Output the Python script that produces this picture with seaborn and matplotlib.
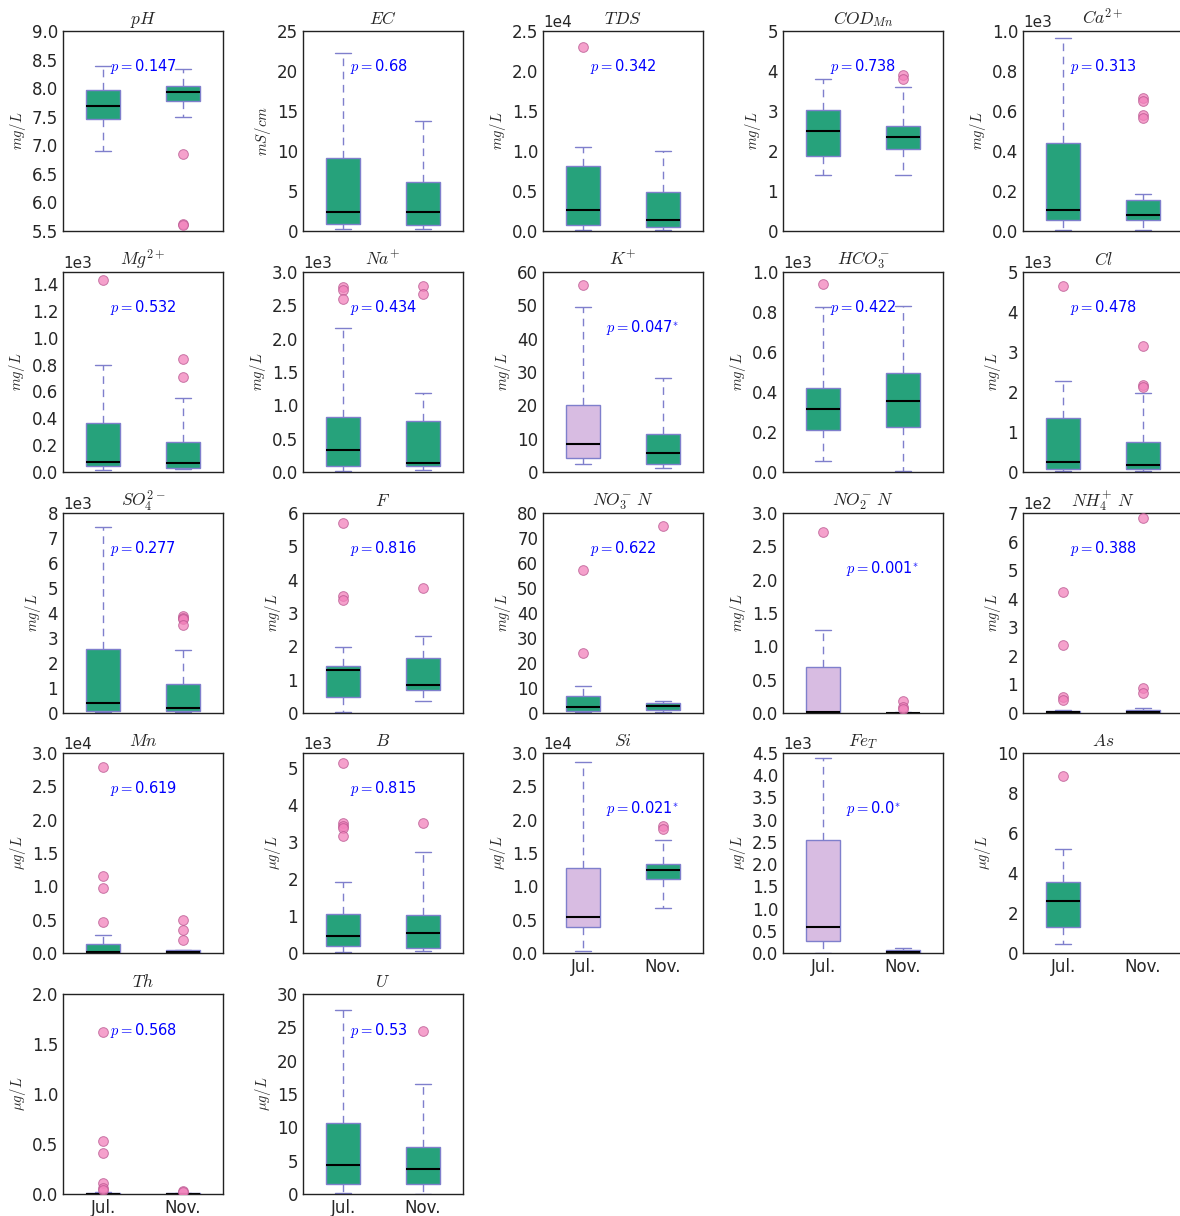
import numpy as np
import pandas as pd
import matplotlib
matplotlib.use("Agg")
import matplotlib.pyplot as plt
from matplotlib.ticker import MultipleLocator, ScalarFormatter
import seaborn as sns

# ---------------------------------------------------------------------------
# Data: five-number summaries (whisker low, Q1, median, Q3, whisker high)
# and outliers for each parameter, July vs November sampling campaigns.
# ---------------------------------------------------------------------------
MONTHS = ["Jul.", "Nov."]

PARAMS = [r"$pH$", r"$EC$", r"$TDS$", r"$COD_{Mn}$", r"$Ca^{2+}$",
          r"$Mg^{2+}$", r"$Na^{+}$", r"$K^{+}$", r"$HCO_3^{-}$", r"$Cl$",
          r"$SO_4^{2-}$", r"$F$", r"$NO_3^{-}\ N$", r"$NO_2^{-}\ N$", r"$NH_4^{+}\ N$",
          r"$Mn$", r"$B$", r"$Si$", r"$Fe_T$", r"$As$",
          r"$Th$", r"$U$"]

UNITS = [r"$mg/L$", r"$mS/cm$", r"$mg/L$", r"$mg/L$", r"$mg/L$",
         r"$mg/L$", r"$mg/L$", r"$mg/L$", r"$mg/L$", r"$mg/L$",
         r"$mg/L$", r"$mg/L$", r"$mg/L$", r"$mg/L$", r"$mg/L$",
         r"$\mu g/L$", r"$\mu g/L$", r"$\mu g/L$", r"$\mu g/L$", r"$\mu g/L$",
         r"$\mu g/L$", r"$\mu g/L$"]

P_VALUES = ["0.147", "0.68", "0.342", "0.738", "0.313",
            "0.532", "0.434", "0.047", "0.422", "0.478",
            "0.277", "0.816", "0.622", "0.001", "0.388",
            "0.619", "0.815", "0.021", "0.0", None,
            "0.568", "0.53"]

JUL_STATS = [
    [6.90, 7.46, 7.69, 7.96, 8.39],
    [0.2, 0.84, 2.39, 9.09, 22.2],
    [170, 710, 2640, 8170, 10470],
    [1.39, 1.88, 2.49, 3.03, 3.79],
    [7, 55, 106, 440, 966],
    [15, 42, 75, 368, 797],
    [20, 95, 330, 820, 2160],
    [2.5, 4.2, 8.3, 20.0, 49.5],
    [55, 210, 317, 420, 827],
    [25, 75, 250, 1350, 2280],
    [50, 90, 410, 2550, 7440],
    [0.03, 0.49, 1.29, 1.42, 1.99],
    [0.5, 0.9, 2.5, 6.8, 10.8],
    [0.0, 0.01, 0.02, 0.695, 1.24],
    [1, 2, 3, 6, 9],
    [10, 100, 200, 1300, 2700],
    [20, 200, 470, 1060, 1910],
    [350, 3850, 5400, 12700, 28600],
    [0, 260, 585, 2550, 4390],
    [0.43, 1.28, 2.62, 3.55, 5.22],
    [0.0, 0.002, 0.005, 0.012, 0.025],
    [0.1, 1.5, 4.3, 10.7, 27.6],
]

NOV_STATS = [
    [7.50, 7.77, 7.94, 8.03, 8.34],
    [0.2, 0.75, 2.39, 6.16, 13.8],
    [170, 500, 1380, 4820, 10050],
    [1.39, 2.06, 2.35, 2.62, 3.60],
    [7, 54, 82, 156, 183],
    [22, 32, 67, 221, 549],
    [35, 85, 140, 760, 1185],
    [1.2, 2.5, 5.7, 11.5, 28.2],
    [7, 227, 355, 495, 830],
    [25, 83, 167, 740, 1980],
    [50, 90, 190, 1150, 2510],
    [0.36, 0.68, 0.84, 1.64, 2.31],
    [0.3, 1.2, 2.8, 4.0, 4.7],
    [0.0, 0.002, 0.004, 0.007, 0.012],
    [1, 2, 5, 12, 16],
    [10, 50, 150, 400, 500],
    [65, 130, 530, 1020, 2730],
    [6750, 11100, 12500, 13400, 16900],
    [0, 10, 20, 60, 110],
    [],
    [0.0, 0.002, 0.004, 0.007, 0.012],
    [0.05, 1.5, 3.8, 7.0, 16.5],
]

JUL_OUTLIERS = [
    [], [], [23000], [], [],
    [1428], [2780, 2730, 2600], [56.2], [942], [4660],
    [], [5.69, 3.50, 3.40], [57.3, 24.1], [2.72], [422, 239, 55, 46],
    [27850, 11550, 9750, 4700], [5130, 3500, 3420, 3380, 3150], [], [], [8.83],
    [1.62, 0.53, 0.41, 0.11, 0.065, 0.045], [],
]

NOV_OUTLIERS = [
    [6.84, 5.62, 5.61], [], [], [3.89, 3.81], [664, 652, 578, 563],
    [844, 710], [2790, 2670], [], [], [3160, 2170, 2130],
    [3880, 3820, 3760, 3530], [3.74], [74.9], [0.18, 0.085, 0.055], [681, 88, 69],
    [4900, 3400, 1900], [3520], [19000, 18600], [], [],
    [0.028, 0.022], [24.5],
]

Y_LIMITS = [(5.5, 9.0), (0, 25), (0, 25000), (0, 5), (0, 1000),
            (0, 1490), (0, 3000), (0, 60), (0, 1000), (0, 5000),
            (0, 8000), (0, 6), (0, 80), (0, 3.0), (0, 700),
            (0, 30000), (0, 5400), (0, 30000), (0, 4500), (0, 10),
            (0, 2.0), (0, 30)]

Y_STEPS = [0.5, 5, 5000, 1, 200,
           200, 500, 10, 200, 1000,
           1000, 1, 10, 0.5, 100,
           5000, 1000, 5000, 500, 2,
           0.5, 5]

# ---------------------------------------------------------------------------
# Style
# ---------------------------------------------------------------------------
sns.set_style("white")
plt.rcParams["font.family"] = ["DejaVu Sans"]
plt.rcParams["mathtext.fontset"] = "cm"
plt.rcParams["axes.edgecolor"] = "#222222"
plt.rcParams["axes.linewidth"] = 1.0

GREEN = "#26a27b"
LILAC = "#d8bce2"
EDGE = "#7f7fcc"
PINK = "#f282bb"
PINK_EDGE = "#b8558f"

W, H = 1180, 1216
fig = plt.figure(figsize=(W / 100, H / 100), dpi=100)

AX_LEFT = [63, 303, 543, 783, 1023]
AX_TOP = [31, 272, 513, 753, 994]
AX_W, AX_H = 160, 200

n_params = len(PARAMS)
for i in range(n_params):
    row, col = divmod(i, 5)
    ax = fig.add_axes([AX_LEFT[col] / W, 1 - (AX_TOP[row] + AX_H) / H,
                       AX_W / W, AX_H / H])

    pval = P_VALUES[i]
    significant = pval is not None and float(pval) < 0.05
    palette = {"Jul.": LILAC if significant else GREEN, "Nov.": GREEN}

    rows = [("Jul.", v) for v in JUL_STATS[i]] + [("Nov.", v) for v in NOV_STATS[i]]
    box_df = pd.DataFrame(rows, columns=["month", "value"])

    sns.boxplot(data=box_df, x="month", y="value", hue="month",
                order=MONTHS, hue_order=MONTHS, palette=palette,
                legend=False, dodge=False, saturation=1, width=0.42,
                whis=(0, 100), showfliers=False, linecolor=EDGE, linewidth=1.0,
                boxprops=dict(edgecolor=EDGE, linewidth=1.0),
                whiskerprops=dict(color=EDGE, linestyle=(0, (5.5, 4)), linewidth=1.0),
                capprops=dict(color=EDGE, linewidth=1.0),
                medianprops=dict(color="black", linewidth=1.5),
                ax=ax)

    out_rows = [("Jul.", v) for v in JUL_OUTLIERS[i]] + [("Nov.", v) for v in NOV_OUTLIERS[i]]
    if out_rows:
        out_df = pd.DataFrame(out_rows, columns=["month", "value"])
        sns.stripplot(data=out_df, x="month", y="value", order=MONTHS,
                      jitter=False, color=PINK, alpha=0.75, size=7,
                      edgecolor=PINK_EDGE, linewidth=0.7, zorder=5, ax=ax)

    ax.set_xlim(-0.5, 1.5)
    ax.set_ylim(*Y_LIMITS[i])
    ax.yaxis.set_major_locator(MultipleLocator(Y_STEPS[i]))
    fmt = ScalarFormatter(useMathText=False)
    fmt.set_powerlimits((-2, 2))
    ax.yaxis.set_major_formatter(fmt)
    ax.yaxis.get_offset_text().set_fontsize(11)

    ax.set_xlabel("")
    ax.set_ylabel(UNITS[i], fontsize=10.5, labelpad=3)
    ax.set_title(PARAMS[i], fontsize=12.5, pad=5)

    ax.tick_params(axis="both", direction="in", length=4, width=0.8,
                   labelsize=12, color="#222222")
    if i + 5 < n_params:
        ax.tick_params(axis="x", labelbottom=False)

    for s in ax.spines.values():
        s.set_visible(True)
        s.set_color("#222222")
        s.set_linewidth(1.0)

    if pval is not None:
        label = r"$p=$" + pval + (r"$^{*}$" if significant else "")
        tx, ty = (0.29, 0.72) if significant else (0.09, 0.82)
        ax.text(tx, ty, label, transform=ax.get_xaxis_transform(),
                color="blue", fontsize=10.5, ha="left", va="center", zorder=6)

fig.savefig("out.png", dpi=100)
